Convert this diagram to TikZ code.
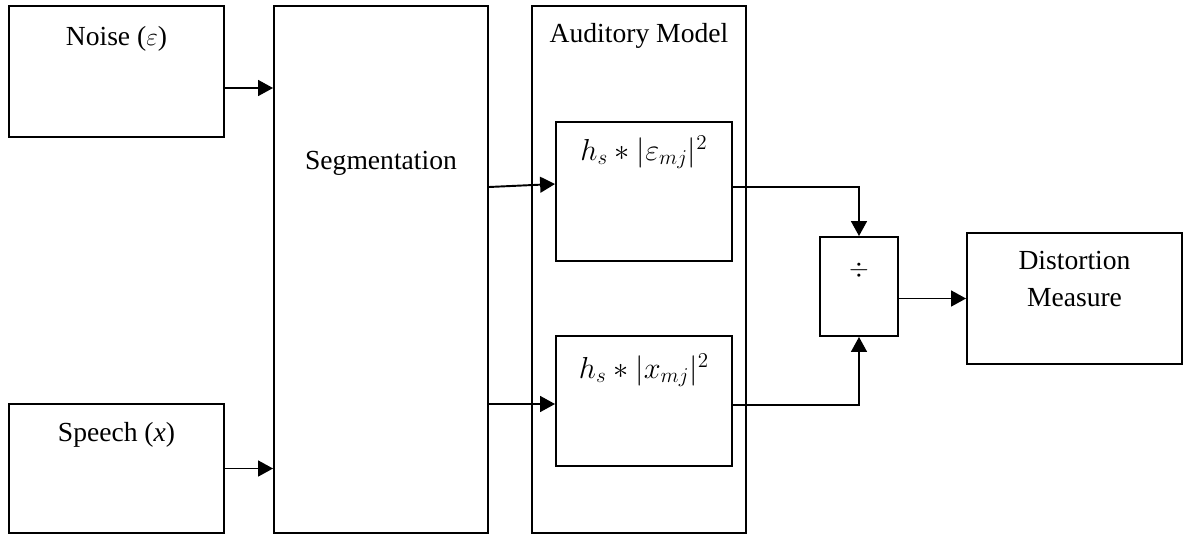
\documentclass[tikz,border=0pt]{standalone}
\usepackage{fontspec}
\setmainfont{Liberation Serif}
\usetikzlibrary{arrows.meta,calc}
\tikzset{blk/.style={rectangle,draw,line width=1.1pt,inner sep=0pt},
  txt/.style={anchor=center,font=\fontsize{15.7}{21}\selectfont,align=center},
  frm/.style={txt,font=\fontsize{18}{21}\selectfont},
  arr/.style={line width=1.1pt,-{Triangle[length=8.5pt,width=9pt]}}}
\begin{document}
\begin{tikzpicture}[x=0.02cm,y=-0.02cm]
        \useasboundingbox (0,0) rectangle (1184,535);
        \node[blk,minimum width=4.3cm,minimum height=2.62cm,label={[txt,yshift=-0.68cm]north:Noise ($\varepsilon$)}] (noise) at (116.5,71.5) {};
        \node[blk,minimum width=4.3cm,minimum height=2.58cm,label={[txt,yshift=-0.64cm]north:Speech (\textit{x})}] (speech) at (116.5,468.5) {};
        \node[blk,minimum width=4.28cm,minimum height=10.54cm,label={[txt,yshift=-3.16cm]north:Segmentation}] (seg) at (381,269.5) {};
        \node[blk,minimum width=4.28cm,minimum height=10.54cm,label={[txt,yshift=-0.62cm]north:Auditory Model}] (aud) at (639,269.5) {};
        \node[blk,minimum width=3.52cm,minimum height=2.78cm,label={[frm,yshift=-0.62cm]north:$h_s\ast|\varepsilon_{mj}|^2$}] (up) at (644,191.5) {};
        \node[blk,minimum width=3.52cm,minimum height=2.6cm,label={[frm,yshift=-0.7cm]north:$h_s\ast|x_{mj}|^2$}] (low) at (644,401) {};
        \node[blk,minimum width=1.56cm,minimum height=1.98cm,label={[txt,yshift=-0.68cm]north:$\div$}] (div) at (859,286.5) {};
        \node[blk,minimum width=4.3cm,minimum height=2.62cm,label={[txt,yshift=-0.94cm]north:Distortion\\Measure}] (dist) at (1074.5,298.5) {};
        \draw[arr] ($(noise.east)+(0,16.5)$) -- ($(noise.east -| seg.west)+(0,16.5)$);
        \draw[arr] (speech.east) -- (speech.east -| seg.west);
        \draw[arr] ($(seg.east |- up.west)+(0,-4.5)$) -- ($(up.west)+(0,-7.5)$);
        \draw[arr] ($(seg.east |- low.west)+(0,3)$) -- ($(low.west)+(0,3)$);
        \draw[arr] ($(up.east)+(0,-4.5)$) -| (div.north);
        \draw[arr] ($(low.east)+(0,4)$) -| (div.south);
        \draw[arr] (div.east |- dist.west) -- (dist.west);
\end{tikzpicture}
\end{document}
